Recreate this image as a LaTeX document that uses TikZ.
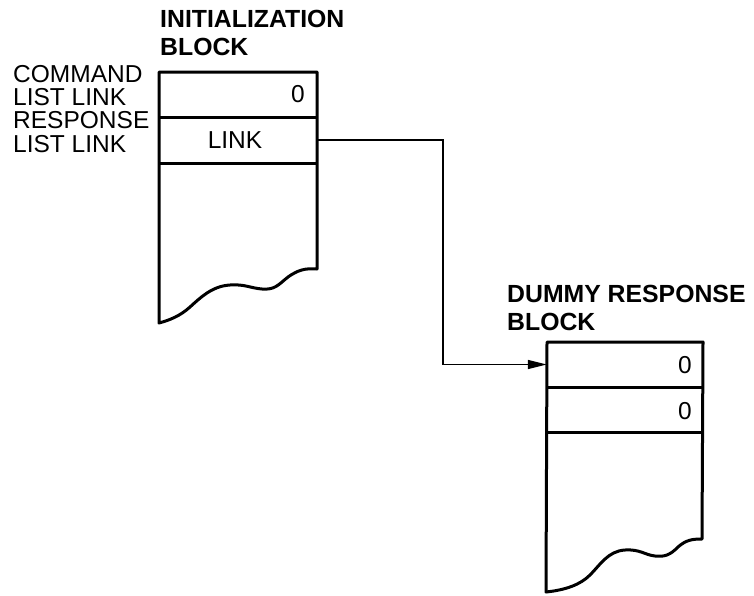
\documentclass[tikz,border=0pt]{standalone}
\usepackage{fontspec}
\setmainfont{Liberation Sans}
\usetikzlibrary{arrows.meta}
\tikzset{
  blockline/.style={line width=3pt, line join=round},
  divline/.style={line width=3pt},
  labeltxt/.style={inner sep=0pt, anchor=base west, align=left, font=\fontsize{24.5}{23.3}\selectfont},
  titletxt/.style={inner sep=0pt, anchor=base west, align=left, font=\fontsize{24.8}{27.5}\selectfont\bfseries},
  celltxt/.style={inner sep=0pt, font=\fontsize{24.5}{24.5}\selectfont},
  link/.style={line width=1.5pt, -{Triangle[length=19pt,width=9pt]}}
}
\begin{document}
\begin{tikzpicture}[x=1pt,y=-1pt]
\useasboundingbox (0,0) rectangle (754,595);
% initialization block
\draw[blockline] (159,72) -- (317,72) -- (317,269)
  .. controls (305,268) and (298,270) .. (288,277)
  .. controls (278,285) and (275,290) .. (262,289)
  .. controls (250,288) and (245,284) .. (230,285)
  .. controls (212,286) and (200,298) .. (190,307)
  .. controls (180,316) and (170,320) .. (159,323)
  -- cycle;
\draw[divline] (159,117) -- (317,117);
\draw[divline] (159,163) -- (317,163);
\node[inner sep=0pt, minimum width=158pt, minimum height=46pt] (initcmd) at (238,94.5) {};
\node[inner sep=0pt, minimum width=158pt, minimum height=46pt] (initresp) at (238,140) {};
\node[celltxt, anchor=base east] (zero1) at (305,102) {0};
\node[celltxt, anchor=base] (linktxt) at (235,148) {LINK};
\node[titletxt] (inittitle) at (160,55) {INITIALIZATION\\BLOCK};
\node[labeltxt] (cmdlabel) at (13,152) {COMMAND\\LIST LINK\\RESPONSE\\LIST LINK};
% dummy response block
\draw[blockline] (547,342) -- (703,342) -- (702,539)
  .. controls (692,539) and (686,540) .. (678,547)
  .. controls (670,555) and (665,557) .. (655,556)
  .. controls (645,555) and (640,549) .. (625,550)
  .. controls (608,551) and (600,565) .. (590,575)
  .. controls (580,585) and (565,590) .. (546,592)
  -- cycle;
\draw[divline] (547,387) -- (703,387);
\draw[divline] (547,432) -- (703,432);
\node[inner sep=0pt, minimum width=156pt, minimum height=45pt] (dummy1) at (625,364.5) {};
\node[inner sep=0pt, minimum width=156pt, minimum height=45pt] (dummy2) at (625,409.5) {};
\node[celltxt, anchor=base east] (zero2) at (692,373) {0};
\node[celltxt, anchor=base east] (zero3) at (692,419) {0};
\node[titletxt] (dummytitle) at (507,330) {DUMMY RESPONSE\\BLOCK};
% connector
\coordinate (bend) at (443,140);
\draw[link] (initresp.east) -- (bend) |- (dummy1.west);
\end{tikzpicture}
\end{document}
